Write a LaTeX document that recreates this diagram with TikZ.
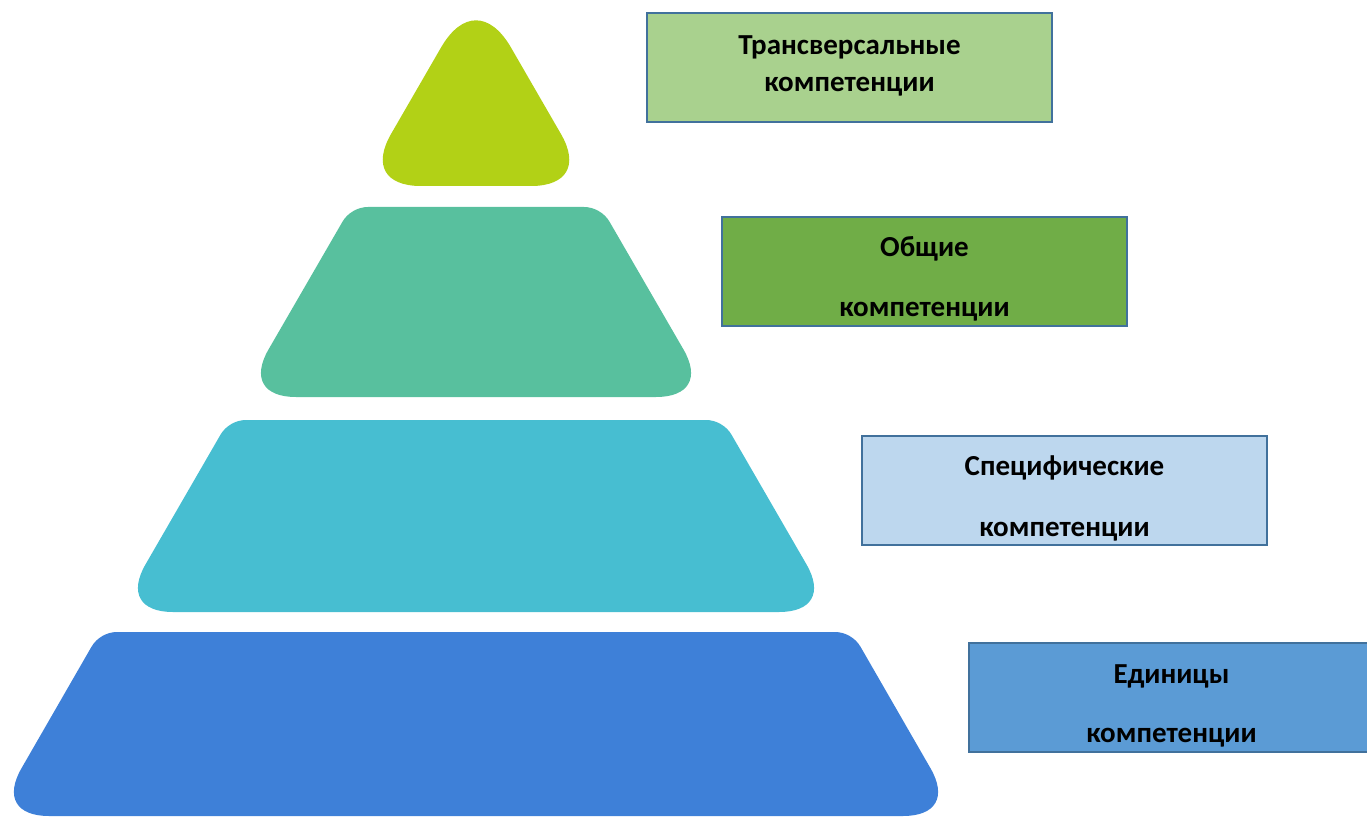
\documentclass[tikz,border=0pt]{standalone}
\usepackage{fontspec}
\setmainfont{Carlito}
\usetikzlibrary{calc}
\definecolor{triC}{HTML}{B2D116}
\definecolor{grnC}{HTML}{58C09E}
\definecolor{cyaC}{HTML}{47BED1}
\definecolor{bluC}{HTML}{3E80D8}
\definecolor{boxA}{HTML}{A9D18E}
\definecolor{boxB}{HTML}{70AD47}
\definecolor{boxC}{HTML}{BDD7EE}
\definecolor{boxD}{HTML}{5B9BD5}
\definecolor{boxEdge}{HTML}{41719C}
% rounded corner helper: #1 previous vertex, #2 vertex, #3 next vertex, #4 cut length, #5 name
\newcommand\mkcorner[5]{%
 \coordinate (#5s) at ($(#2)!#4!(#1)$);
 \coordinate (#5e) at ($(#2)!#4!(#3)$);
 \coordinate (#5a) at ($(#5s)!0.6!(#2)$);
 \coordinate (#5b) at ($(#5e)!0.6!(#2)$);}
% trapezoid: #1 top y, #2 bottom y, #3 top half width, #4 bottom half width, #5 top cut, #6 bottom cut, #7 colour, #8 name
\newcommand\pyrshape[8]{%
 \coordinate (#8TL) at (476-#3,#1);
 \coordinate (#8TR) at (476+#3,#1);
 \coordinate (#8BR) at (476+#4,#2);
 \coordinate (#8BL) at (476-#4,#2);
 \mkcorner{#8TL}{#8TR}{#8BR}{#5}{#8c1}
 \mkcorner{#8TR}{#8BR}{#8BL}{#6}{#8c2}
 \mkcorner{#8BR}{#8BL}{#8TL}{#6}{#8c3}
 \mkcorner{#8BL}{#8TL}{#8TR}{#5}{#8c4}
 \fill[#7] (#8c1s) .. controls (#8c1a) and (#8c1b) .. (#8c1e)
  -- (#8c2s) .. controls (#8c2a) and (#8c2b) .. (#8c2e)
  -- (#8c3s) .. controls (#8c3a) and (#8c3b) .. (#8c3e)
  -- (#8c4s) .. controls (#8c4a) and (#8c4b) .. (#8c4e) -- cycle;}
\tikzset{
  compbox/.style={draw=boxEdge, line width=2pt, minimum width=405pt, minimum height=109pt, inner sep=0pt},
  lbl/.style={font=\bfseries\fontsize{29}{37}\selectfont, align=center, text=black, inner sep=0pt}
}
\begin{document}
\begin{tikzpicture}[x=1pt,y=-1pt]
\useasboundingbox (0,0) rectangle (1367,818);
\clip (0,0) rectangle (1367,818);
% pyramid top (triangle)
\coordinate (tA) at (476,-13);
\coordinate (tR) at (591,186);
\coordinate (tL) at (361,186);
\mkcorner{tL}{tA}{tR}{70pt}{ta}
\mkcorner{tA}{tR}{tL}{60pt}{tr}
\mkcorner{tR}{tL}{tA}{60pt}{tl}
\fill[triC] (tas) .. controls (taa) and (tab) .. (tae)
 -- (trs) .. controls (tra) and (trb) .. (tre)
 -- (tls) .. controls (tla) and (tlb) .. (tle) -- cycle;
% pyramid layers
\pyrshape{207}{397}{125}{235}{17pt}{55pt}{grnC}{g}
\pyrshape{420}{612}{247}{358}{17pt}{55pt}{cyaC}{c}
\pyrshape{632}{816}{376}{482}{17pt}{55pt}{bluC}{b}
% boxes
\node[compbox, fill=boxA] (b1) at (849.5,67.5) {};
\node[lbl] (t1) at (849.5,65.5) {Трансверсальные\\компетенции};
\node[compbox, fill=boxB] (b2) at (924.5,271.5) {};
\node[lbl] (t2) at (924.5,279) {Общие\\[23pt]компетенции};
\node[compbox, fill=boxC] (b3) at (1064.5,490.5) {};
\node[lbl] (t3) at (1064.5,498.5) {Специфические\\[24pt]компетенции};
\node[compbox, fill=boxD] (b4) at (1171.5,697) {};
\node[lbl] (t4) at (1171.5,706) {Единицы\\[22pt]компетенции};
\end{tikzpicture}
\end{document}
